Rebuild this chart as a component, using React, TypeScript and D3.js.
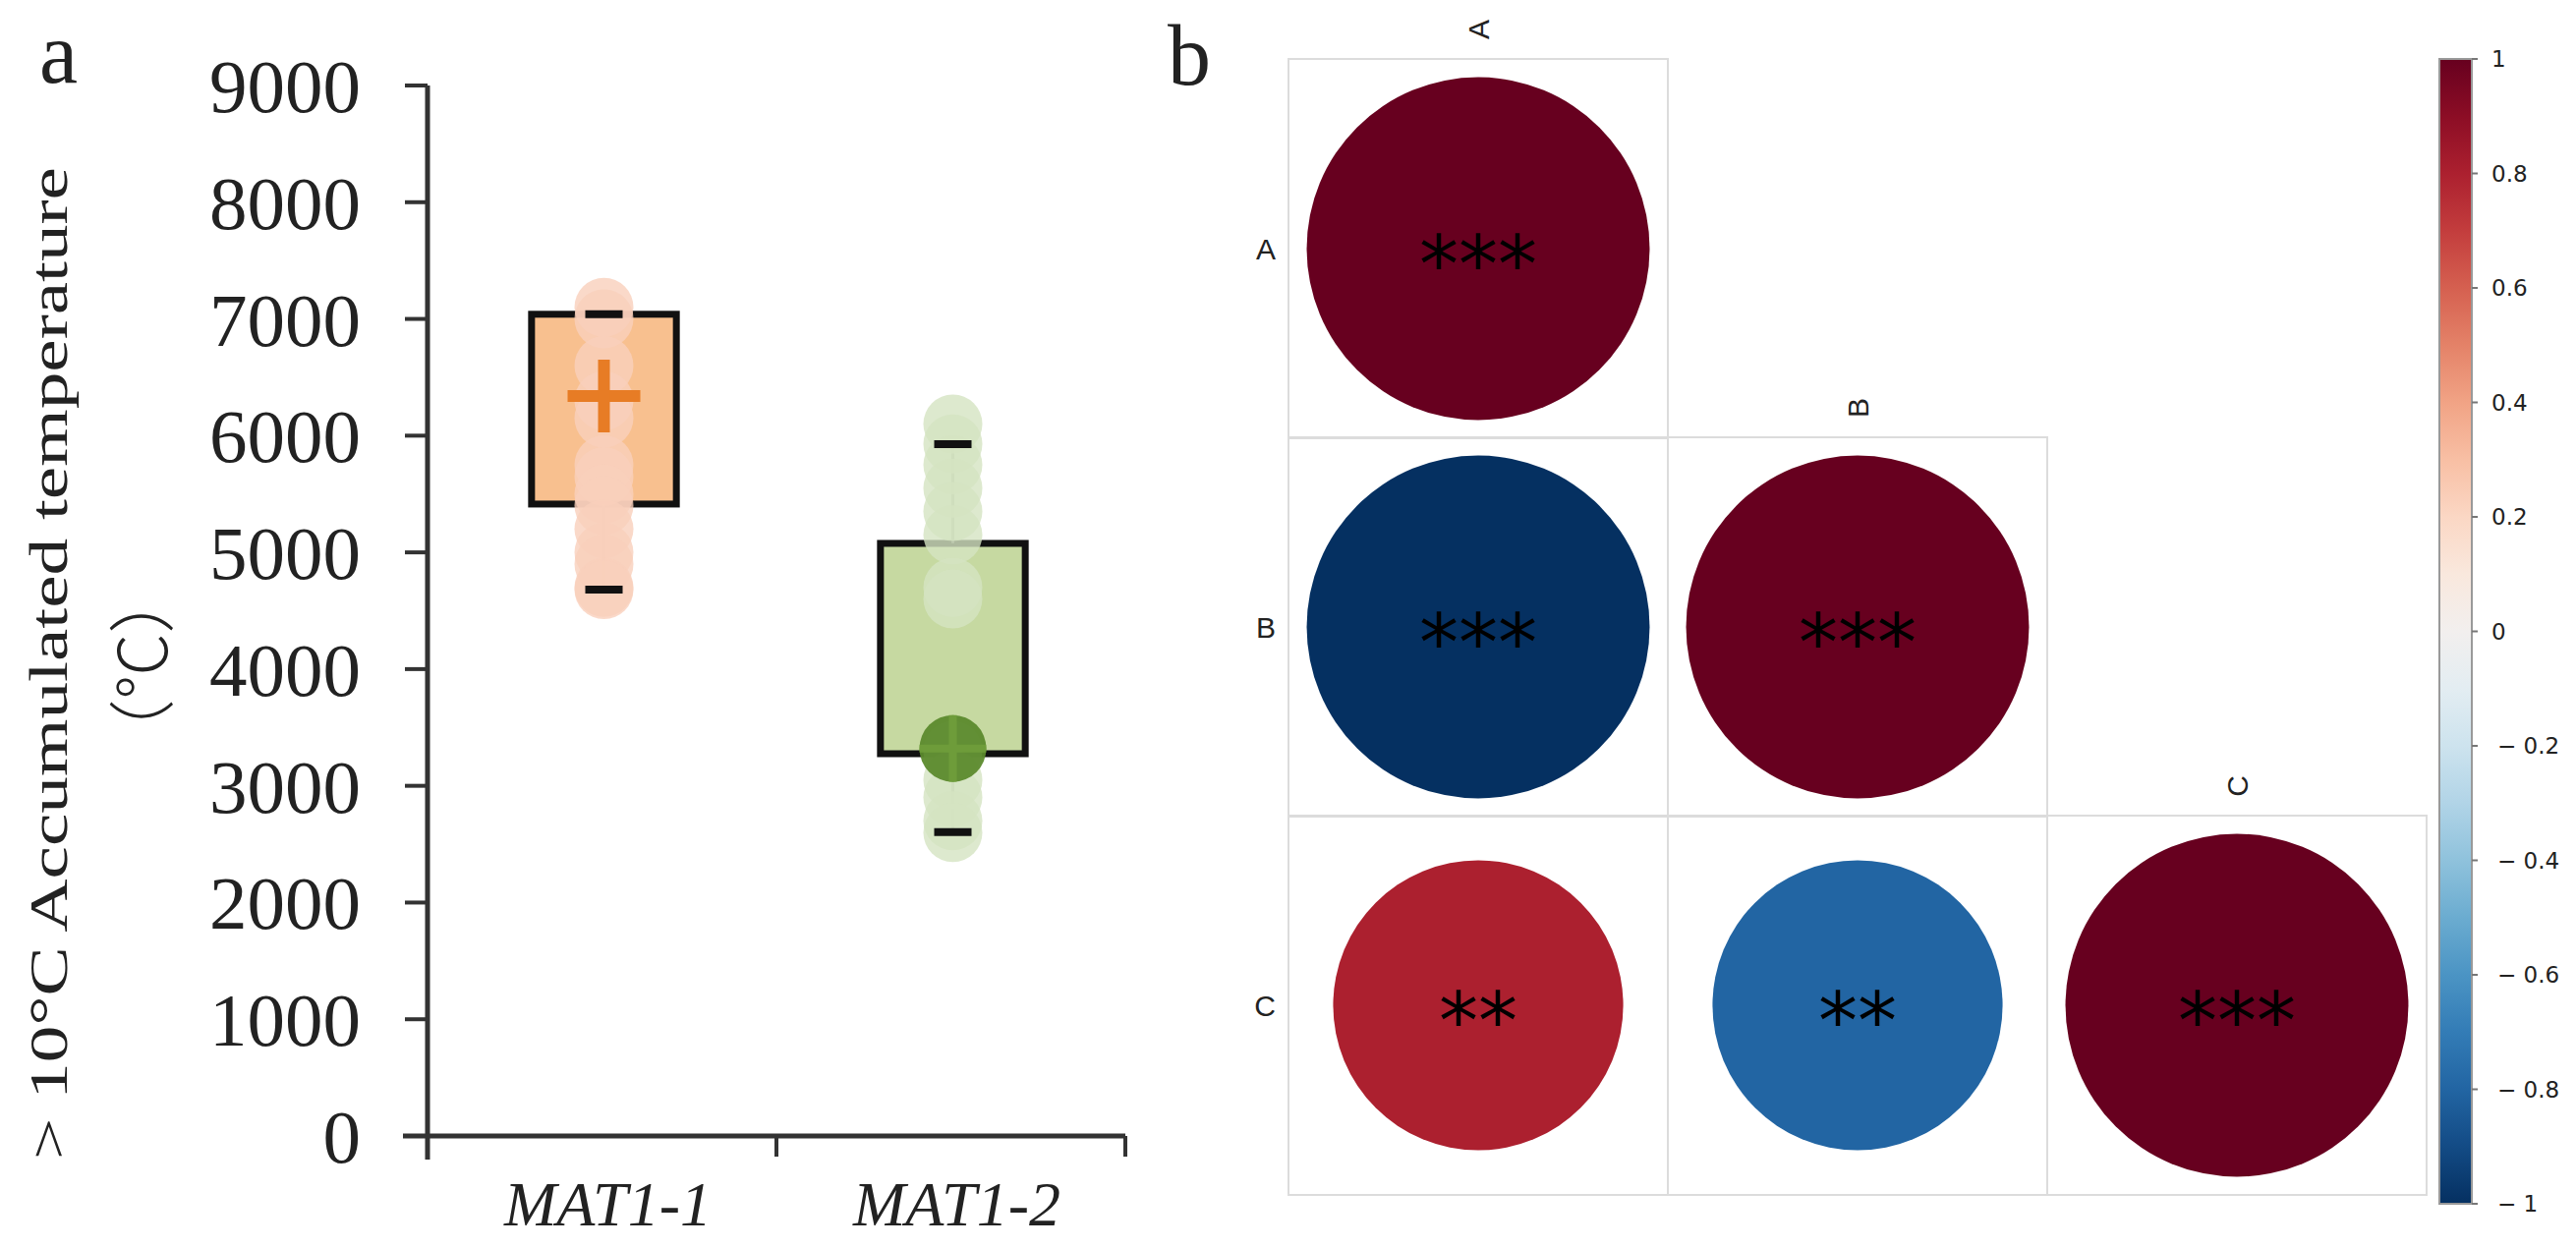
import React from "react";
import * as d3 from "d3";

// ---------- Panel a data ----------
const yTicks = [0, 1000, 2000, 3000, 4000, 5000, 6000, 7000, 8000, 9000];
const groups = ["MAT1-1", "MAT1-2"];
const boxQ1 = [5414, 3275];
const boxQ3 = [7040, 5077];
const whiskerLow = [4681, 2603];
const whiskerHigh = [7040, 5928];
const means = [6340, 3320];
const pointsMat11 = [7100, 7000, 6600, 6300, 6150, 5750, 5650, 5500, 5400, 5200, 5000, 4900, 4700, 4680];
const pointsMat12 = [6100, 5930, 5750, 5550, 5350, 5150, 4700, 4600, 3300, 3050, 2900, 2700, 2600];
const groupPoints = [pointsMat11, pointsMat12];

// ---------- Panel b data ----------
const corrVars = ["A", "B", "C"];
const corrRowA = [1];
const corrRowB = [-1, 1];
const corrRowC = [0.8, -0.8, 1];
const sigRowA = ["***"];
const sigRowB = ["***", "***"];
const sigRowC = ["**", "**", "***"];
const colorbarTicks = [1, 0.8, 0.6, 0.4, 0.2, 0, -0.2, -0.4, -0.6, -0.8, -1];

const corrRows = [corrRowA, corrRowB, corrRowC];
const sigRows = [sigRowA, sigRowB, sigRowC];

const boxFill = ["#f8c08f", "#c6d9a1"];
const pointFill = ["#f9d0bb", "#d4e4c2"];

export default function App() {
  const W = 2621, H = 1270;
  const y = d3.scaleLinear().domain([0, 9000]).range([1156, 87]);
  const x = d3.scaleBand().domain(groups).range([435, 1145]).paddingInner(0).paddingOuter(0);
  const bw = x.bandwidth();
  const boxW = bw * 0.415;

  const cx = d3.scaleBand().domain(corrVars).range([1311, 2469]);
  const cy = d3.scaleBand().domain(corrVars).range([60, 1215]);
  const cs = cx.bandwidth();
  const rScale = d3.scalePow().exponent(0.75).domain([0, 1]).range([0, cs * 0.452]);
  const color = d3.scaleSequential(d3.interpolateRdBu).domain([1, -1]);
  const cbY = d3.scaleLinear().domain([1, -1]).range([60, 1225]);
  const gradStops = d3.range(0, 1.0001, 0.05);

  const serif = "'Liberation Serif', 'Times New Roman', serif";
  const sans = "'Liberation Sans', Arial, sans-serif";

  return (
    <svg width={W} height={H} style={{ position: "absolute", left: 0, top: 0, background: "#fff" }}>
      <defs>
        <linearGradient id="cb" x1="0" y1="0" x2="0" y2="1">
          {gradStops.map((t, i) => (
            <stop key={i} offset={t} stopColor={color(1 - 2 * t)} />
          ))}
        </linearGradient>
      </defs>

      {/* ---------------- Panel a ---------------- */}
      <text x={40} y={84} fontFamily={serif} fontSize={88} fill="#222">a</text>

      {/* y axis label */}
      <text
        transform={`translate(68,${(170 + 1180) / 2}) rotate(-90)`}
        textAnchor="middle"
        fontFamily={serif}
        fontSize={54}
        fill="#222"
        textLength={1010}
        lengthAdjust="spacingAndGlyphs"
      >
        {"> 10°C Accumulated temperature"}
      </text>
      <text
        transform={`translate(170,678) rotate(-90)`}
        textAnchor="middle"
        fontFamily="'Noto Sans CJK SC', 'Liberation Serif', serif"
        fontSize={68}
        fontWeight={300}
        fill="#222"
      >
        {"（°C）"}
      </text>

      {/* y axis */}
      <line x1={435} x2={435} y1={y(9000)} y2={1180} stroke="#333" strokeWidth={5} />
      {yTicks.map((t) => (
        <g key={t}>
          <line x1={412} x2={435} y1={y(t)} y2={y(t)} stroke="#333" strokeWidth={4} />
          <text x={367} y={y(t)} dy="0.35em" textAnchor="end" fontFamily={serif} fontSize={77} fill="#222">
            {t}
          </text>
        </g>
      ))}
      {/* x axis */}
      <line x1={410} x2={1145} y1={y(0)} y2={y(0)} stroke="#333" strokeWidth={5} />
      {groups.map((g) => (
        <line key={g} x1={(x(g) as number) + bw} x2={(x(g) as number) + bw} y1={y(0)} y2={1177} stroke="#333" strokeWidth={4} />
      ))}
      {groups.map((g) => (
        <text
          key={g}
          x={(x(g) as number) + bw / 2 + 6}
          y={1247}
          textAnchor="middle"
          fontFamily={serif}
          fontStyle="italic"
          fontSize={64}
          fill="#222"
        >
          {g}
        </text>
      ))}

      {/* boxes */}
      {groups.map((g, i) => {
        const c = (x(g) as number) + bw / 2 + 2;
        return (
          <g key={g}>
            <rect
              x={c - boxW / 2}
              y={y(boxQ3[i])}
              width={boxW}
              height={y(boxQ1[i]) - y(boxQ3[i])}
              fill={boxFill[i]}
              stroke="#111"
              strokeWidth={7}
            />
            <line x1={c} x2={c} y1={y(boxQ3[i])} y2={y(whiskerHigh[i])} stroke="#555" strokeWidth={3} />
            <line x1={c} x2={c} y1={y(boxQ1[i])} y2={y(whiskerLow[i])} stroke="#555" strokeWidth={3} />
            {groupPoints[i].map((v, j) => (
              <circle key={j} cx={c} cy={y(v)} r={30} fill={pointFill[i]} opacity={0.8} />
            ))}
            <line x1={c - 19} x2={c + 19} y1={y(whiskerHigh[i])} y2={y(whiskerHigh[i])} stroke="#111" strokeWidth={8} />
            <line x1={c - 19} x2={c + 19} y1={y(whiskerLow[i])} y2={y(whiskerLow[i])} stroke="#111" strokeWidth={8} />
            {i === 0 ? (
              <g stroke="#e77c25" strokeWidth={12}>
                <line x1={c - 37} x2={c + 37} y1={y(means[i])} y2={y(means[i])} />
                <line x1={c} x2={c} y1={y(means[i]) - 37} y2={y(means[i]) + 37} />
              </g>
            ) : (
              <g>
                <circle cx={c} cy={y(means[i])} r={34} fill="#5c8a2d" opacity={0.95} />
                <g stroke="#72a03c" strokeWidth={8} opacity={0.8}>
                  <line x1={c - 34} x2={c + 34} y1={y(means[i])} y2={y(means[i])} />
                  <line x1={c} x2={c} y1={y(means[i]) - 34} y2={y(means[i]) + 34} />
                </g>
              </g>
            )}
          </g>
        );
      })}

      {/* ---------------- Panel b ---------------- */}
      <text x={1188} y={86} fontFamily={serif} fontSize={88} fill="#222">b</text>

      {corrRows.map((row, ri) => (
        <g key={ri}>
          {row.map((v, ci) => {
            const x0 = cx(corrVars[ci]) as number;
            const y0 = cy(corrVars[ri]) as number;
            return (
              <g key={ci}>
                <rect x={x0} y={y0} width={cs} height={cs} fill="none" stroke="#dcdcdc" strokeWidth={2} />
                <circle cx={x0 + cs / 2} cy={y0 + cs / 2} r={rScale(Math.abs(v))} fill={color(v)} />
                <text
                  x={x0 + cs / 2}
                  y={y0 + cs / 2 + 0.556 * 80}
                  textAnchor="middle"
                  fontFamily="'DejaVu Sans', sans-serif"
                  fontSize={80}
                  fill="#000"
                >
                  {sigRows[ri][ci]}
                </text>
              </g>
            );
          })}
          <text
            x={1298}
            y={(cy(corrVars[ri]) as number) + cs / 2}
            dy="0.35em"
            textAnchor="end"
            fontFamily={sans}
            fontSize={30}
            fill="#222"
          >
            {corrVars[ri]}
          </text>
          <text
            transform={`translate(${(cx(corrVars[ri]) as number) + cs / 2},${(cy(corrVars[ri]) as number) - 30}) rotate(-90)`}
            dy="0.35em"
            textAnchor="middle"
            fontFamily={sans}
            fontSize={30}
            fill="#222"
          >
            {corrVars[ri]}
          </text>
        </g>
      ))}

      {/* colorbar */}
      <rect x={2482} y={cbY(1)} width={33} height={cbY(-1) - cbY(1)} fill="url(#cb)" stroke="#999" strokeWidth={2} />
      {colorbarTicks.map((t) => (
        <g key={t}>
          <line x1={2515} x2={2521} y1={cbY(t)} y2={cbY(t)} stroke="#777" strokeWidth={2} />
          <text
            x={t < 0 ? 2541 : 2535}
            y={cbY(t)}
            dy="0.35em"
            fontFamily="'DejaVu Sans', sans-serif"
            fontSize={23}
            fill="#222"
          >
            {t < 0 ? `\u2212 ${Math.abs(t)}` : `${t}`}
          </text>
        </g>
      ))}
    </svg>
  );
}
